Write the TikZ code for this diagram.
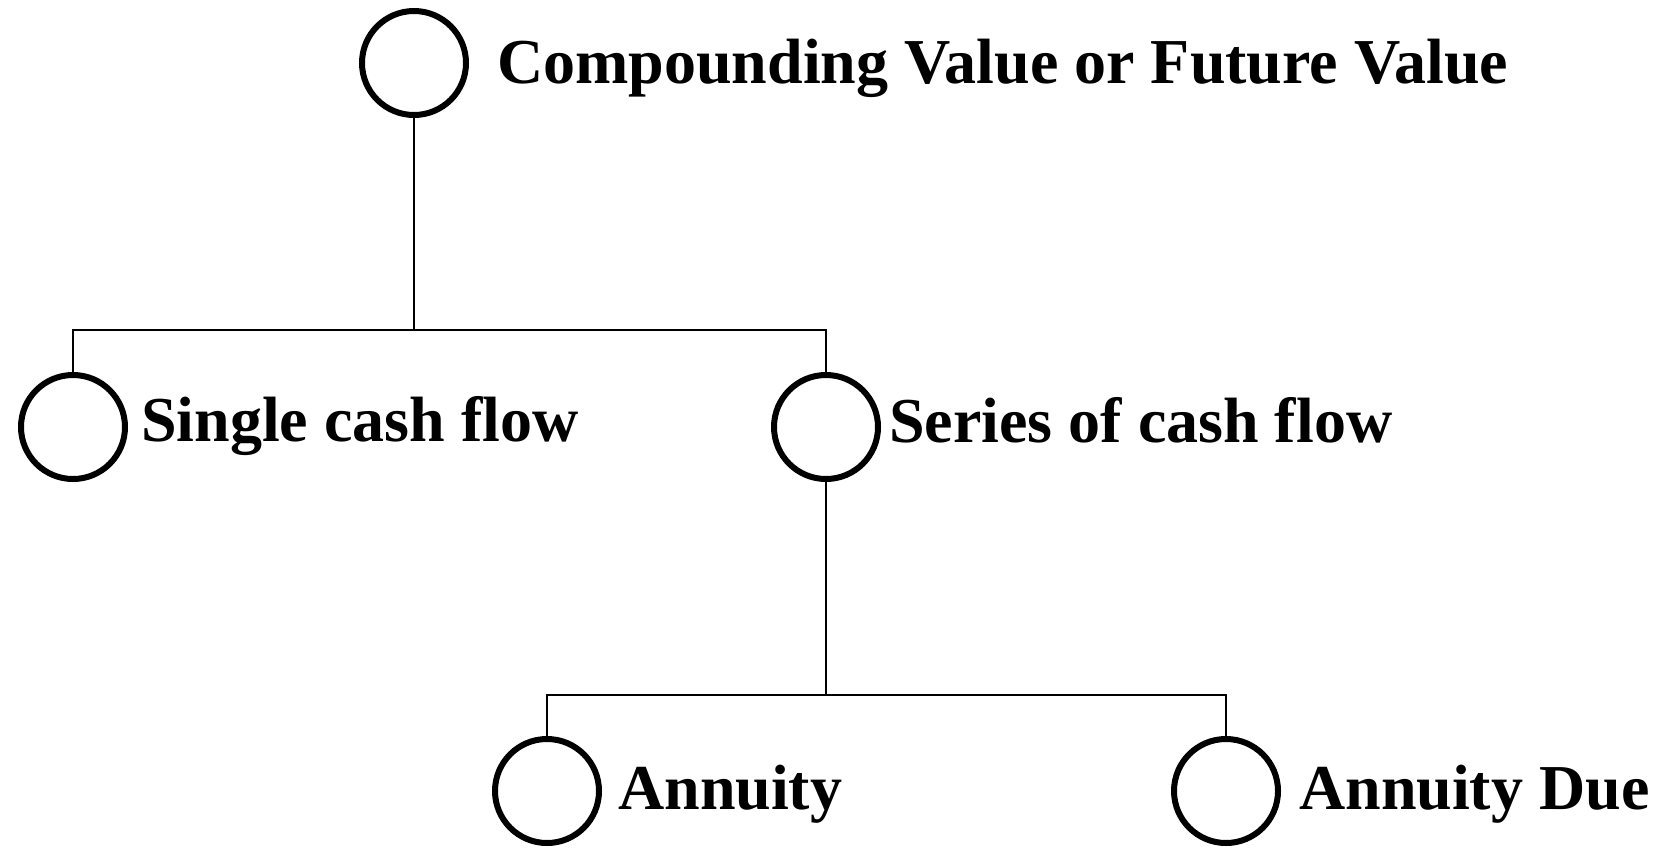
\documentclass[tikz,border=0pt]{standalone}
\usepackage{fontspec}
\setmainfont{Liberation Serif}
\usetikzlibrary{positioning}

\tikzset{
  ring/.style={circle, draw, line width=6pt, minimum size=104pt, inner sep=0pt},
  lbl/.style={anchor=base west, inner sep=0pt, font=\fontsize{64}{70}\selectfont\bfseries},
  wire/.style={line width=2.5pt}
}

\begin{document}
\begin{tikzpicture}[x=1pt, y=-1pt]
				\useasboundingbox (0,0) rectangle (1659,849);
				
				% Circles
				\node[ring] (fv) at (414,63) {};
				\node[ring] (single) at (73,427) {};
				\node[ring] (series) at (826,427) {};
				\node[ring] (ann) at (547,791) {};
				\node[ring] (due) at (1226,791) {};
				
				% Labels
				\node[lbl] (fvtxt) at (497,83) {Compounding Value or Future Value};
				\node[lbl] (singletxt) at (141,441) {Single cash flow};
				\node[lbl] (seriestxt) at (889,442) {Series of cash flow};
				\node[lbl] (anntxt) at (618,809) {Annuity};
				\node[lbl] (duetxt) at (1299,809) {Annuity Due};
				
				% Connectors
				\coordinate (bus1) at (414,330);
				\coordinate (bus2) at (826,695);
				\draw[wire] (fv.south) -- (bus1);
				\draw[wire] (single.north) |- (bus1) -| (series.north);
				\draw[wire] (series.south) -- (bus2);
				\draw[wire] (ann.north) |- (bus2) -| (due.north);
			\end{tikzpicture}
\end{document}
